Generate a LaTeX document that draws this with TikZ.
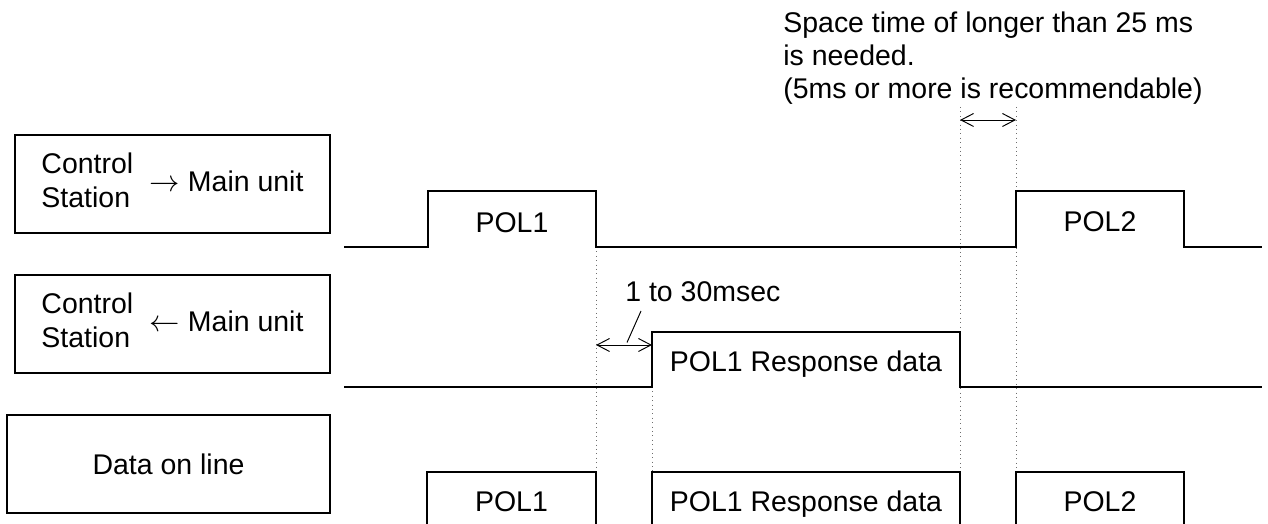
\documentclass[tikz,border=0pt]{standalone}
\usepackage{fontspec}
\setmainfont{Liberation Sans}
\usetikzlibrary{arrows.meta,positioning,calc}
\definecolor{guidegray}{RGB}{110,110,110}
\tikzset{
  lanebox/.style={draw, line width=1.1pt, minimum width=6.3cm, minimum height=1.96cm, inner sep=0pt},
  signal/.style={line width=1.6pt, line join=miter},
  guide/.style={guidegray, dotted, line width=0.5pt},
  span/.style={{Straight Barb[length=2.5mm,width=2.6mm]}-{Straight Barb[length=2.5mm,width=2.6mm]}, line width=0.55pt},
  siglabel/.style={anchor=base, inner sep=0pt},
}

\begin{document}
\begin{tikzpicture}[font=\fontsize{16.2}{19}\selectfont]
\useasboundingbox (0,0) rectangle (25.36,10.48);

% LEFT: lane labels
\node[lanebox] (lanetx) at (3.45,6.8) {\begin{tabular}{@{}l@{}}Control\\Station\end{tabular}\hspace{0.3em} $\rightarrow$ Main unit};
\node[lanebox] (lanerx) at (3.45,4.0) {\begin{tabular}{@{}l@{}}Control\\Station\end{tabular}\hspace{0.3em} $\leftarrow$ Main unit};
\node[lanebox, minimum width=6.46cm] (laneline) at (3.37,1.2) {Data on line};

% guide lines, drawn first so the signals sit on top
\draw[guide] (11.92,5.54) -- (11.92,1.04);
\draw[guide] (13.04,2.74) -- (13.04,1.04);
\draw[guide] (19.2,8.34) -- (19.2,1.04);
\draw[guide] (20.32,8.34) -- (20.32,1.04);

% TOP: control station -> main unit
\draw[signal] (6.88,5.54) -- (8.56,5.54) -- (8.56,6.66) -- (11.92,6.66) -- (11.92,5.54)
  -- (20.32,5.54) -- (20.32,6.66) -- (23.68,6.66) -- (23.68,5.54) -- (25.24,5.54);
\node[siglabel] (txpola) at (10.24,5.82) {POL1};
\node[siglabel] (txpolb) at (22.0,5.84) {POL2};

% MIDDLE: main unit -> control station
\draw[signal] (6.88,2.74) -- (13.04,2.74) -- (13.04,3.84) -- (19.2,3.84) -- (19.2,2.74) -- (25.24,2.74);
\node[siglabel] (rxresp) at (16.12,3.04) {POL1 Response data};

% BOTTOM: data on line
\draw[signal] (8.54,0) -- (8.54,1.04) -- (11.92,1.04) -- (11.92,0);
\draw[signal] (13.04,0) -- (13.04,1.04) -- (19.2,1.04) -- (19.2,0);
\draw[signal] (20.32,0) -- (20.32,1.04) -- (23.68,1.04) -- (23.68,0);
\node[siglabel] (linepola) at (10.23,0.24) {POL1};
\node[siglabel] (lineresp) at (16.12,0.24) {POL1 Response data};
\node[siglabel] (linepolb) at (22.0,0.24) {POL2};

% turn-around time
\coordinate (gapa) at (11.92,3.58);
\coordinate (gapb) at (13.04,3.58);
\draw[span] (gapa) -- (gapb);
\node[anchor=base west, inner sep=0pt] (gapnote) at (12.5,4.44) {1 to 30msec};
\coordinate (leadbot) at (12.54,3.63);
\coordinate (leadtop) at (12.82,4.26);
\draw[line width=0.55pt] (leadbot) -- (leadtop);

% space time before next poll
\coordinate (spacea) at (19.2,8.08);
\coordinate (spaceb) at (20.32,8.08);
\draw[span] (spacea) -- (spaceb);
\node[anchor=base west, align=left, inner sep=0pt] (spacenote) at (15.66,8.5)
  {Space time of longer than 25 ms\\is needed.\\(5ms or more is recommendable)};
\end{tikzpicture}
\end{document}
